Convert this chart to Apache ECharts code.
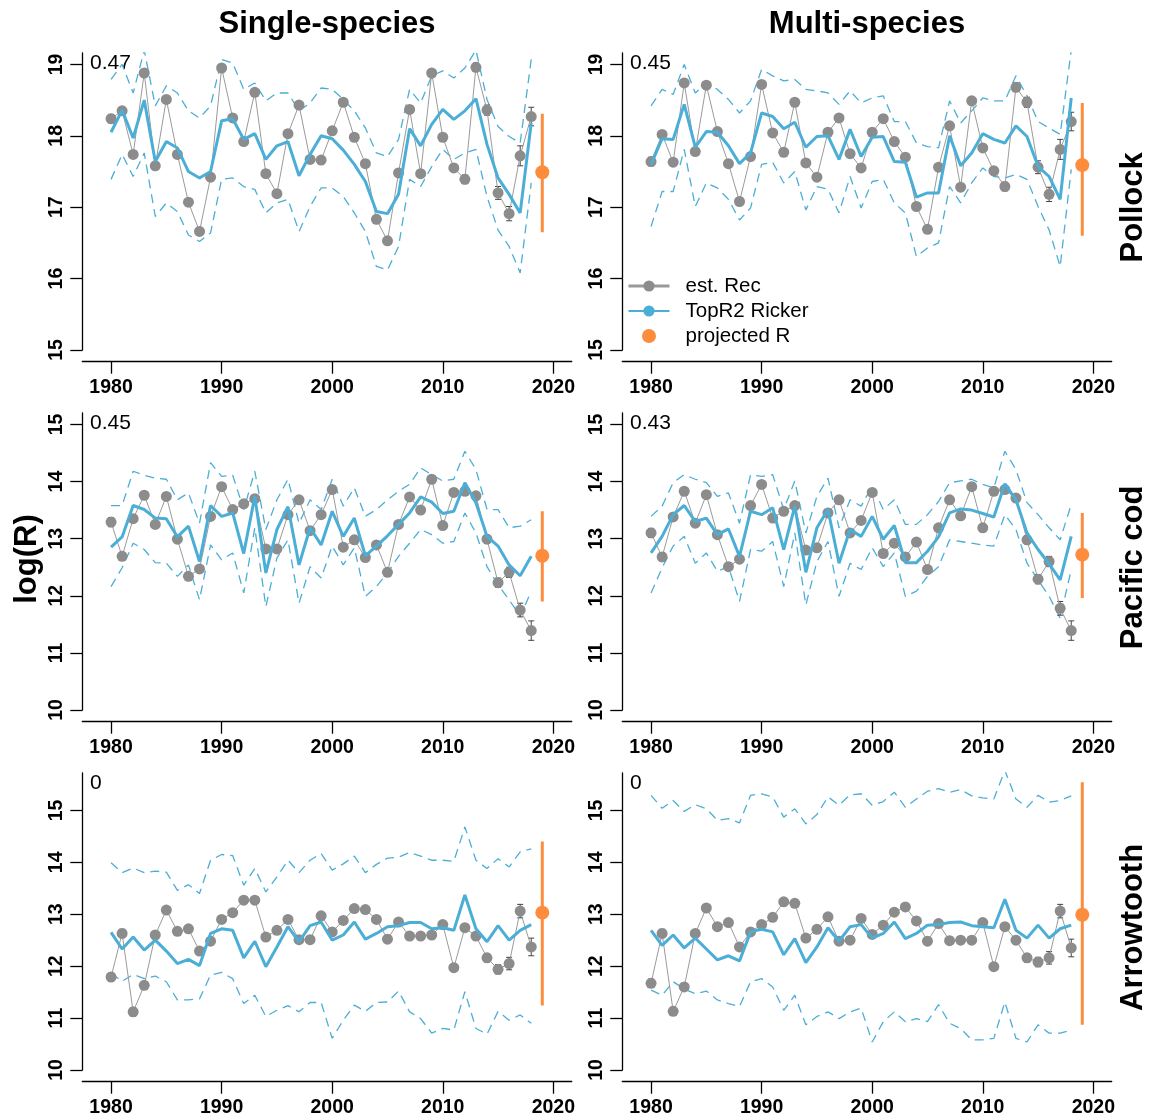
<!DOCTYPE html>
<html><head><meta charset="utf-8">
<script src="https://cdn.jsdelivr.net/npm/echarts@6/dist/echarts.min.js"></script>
<style>html,body{margin:0;padding:0;background:#fff}#c{width:1152px;height:1119px}</style>
</head><body><div id="c"></div><script>
// ---------------- DATA ----------------
const years = [1980,1981,1982,1983,1984,1985,1986,1987,1988,1989,1990,1991,1992,1993,1994,1995,1996,1997,1998,1999,2000,2001,2002,2003,2004,2005,2006,2007,2008,2009,2010,2011,2012,2013,2014,2015,2016,2017,2018];
const projYear = 2019;
const xTicks = [1980,1990,2000,2010,2020];
const yTicksPollock = [15,16,17,18,19];
const yTicksOther = [10,11,12,13,14,15];
const colTitles = ['Single-species','Multi-species'];
const rowTitles = ['Pollock','Pacific cod','Arrowtooth'];
const r2Labels = ['0.47','0.45','0.45','0.43','0','0'];

// Pollock, single-species
const pollockSS_rec = [18.24,18.35,17.74,18.88,17.58,18.51,17.74,17.07,16.66,17.42,18.95,18.25,17.92,18.61,17.47,17.19,18.03,18.43,17.67,17.66,18.07,18.47,17.98,17.61,16.83,16.53,17.48,18.37,17.47,18.88,17.98,17.55,17.39,18.96,18.36,17.20,16.91,17.72,18.27];
const pollockSS_fit = [18.05,18.36,17.97,18.50,17.64,17.92,17.83,17.50,17.41,17.50,18.21,18.24,17.95,18.03,17.67,17.86,17.92,17.44,17.74,18.00,17.96,17.80,17.60,17.36,16.94,16.91,17.18,18.10,17.86,18.16,18.37,18.23,18.35,18.52,17.88,17.41,17.18,16.92,18.18];
const pollockSS_hi = [18.79,19.00,18.60,19.20,18.42,18.70,18.60,18.35,18.25,18.42,19.07,19.02,18.65,18.74,18.49,18.60,18.60,18.35,18.46,18.67,18.65,18.51,18.35,18.11,17.76,17.71,17.95,18.65,18.46,18.84,18.91,18.81,18.95,19.20,18.51,18.13,17.99,17.90,19.07];
const pollockSS_lo = [17.39,17.74,17.43,17.76,16.87,17.06,16.94,16.61,16.52,16.64,17.39,17.41,17.29,17.25,16.92,17.06,17.11,16.66,17.01,17.27,17.27,17.15,16.92,16.66,16.17,16.12,16.45,17.39,17.29,17.57,17.81,17.67,17.76,17.81,17.15,16.68,16.45,16.08,17.34];
const pollockSS_proj = [17.49,16.65,18.31];
// Pollock, multi-species
const pollockMS_rec = [17.64,18.02,17.63,18.74,17.78,18.71,18.06,17.61,17.08,17.71,18.72,18.04,17.77,18.47,17.62,17.42,18.05,18.25,17.75,17.55,18.05,18.24,17.92,17.70,17.01,16.69,17.56,18.14,17.28,18.49,17.83,17.51,17.29,18.68,18.47,17.56,17.18,17.81,18.20];
const pollockMS_fit = [17.60,17.96,17.95,18.44,17.84,18.06,18.05,17.86,17.61,17.76,18.32,18.27,18.10,18.19,17.84,17.99,18.00,17.67,18.09,17.71,17.98,17.99,17.64,17.63,17.14,17.20,17.20,18.00,17.58,17.76,18.03,17.95,17.90,18.14,17.99,17.57,17.43,17.11,18.53];
const pollockMS_hi = [18.42,18.65,18.58,19.00,18.60,18.74,18.65,18.51,18.32,18.49,18.93,18.84,18.77,18.79,18.65,18.63,18.60,18.44,18.63,18.46,18.53,18.56,18.20,18.20,17.90,17.85,17.83,18.49,18.18,18.35,18.53,18.49,18.49,18.84,18.56,18.20,18.11,18.02,19.20];
const pollockMS_lo = [16.73,17.22,17.22,17.81,17.01,17.34,17.27,17.11,16.82,16.99,17.60,17.63,17.34,17.50,16.96,17.29,17.25,16.92,17.43,16.99,17.36,17.39,17.06,16.92,16.31,16.43,16.50,17.29,17.06,17.34,17.55,17.43,17.41,17.46,17.39,17.01,16.68,16.17,17.53];
const pollockMS_proj = [17.59,16.60,18.46];
const pollockSE = [0.06,0.05,0.05,0.05,0.05,0.05,0.05,0.05,0.05,0.05,0.05,0.05,0.05,0.05,0.05,0.05,0.05,0.05,0.05,0.05,0.05,0.05,0.05,0.05,0.05,0.05,0.05,0.05,0.05,0.05,0.05,0.05,0.06,0.06,0.07,0.09,0.10,0.14,0.13];

// Pacific cod, single-species
const codSS_rec = [13.29,12.69,13.35,13.76,13.25,13.74,12.99,12.34,12.47,13.39,13.91,13.51,13.61,13.70,12.82,12.82,13.42,13.68,13.14,13.42,13.86,12.85,12.98,12.67,12.89,12.41,13.25,13.73,13.50,14.04,13.23,13.81,13.83,13.75,12.99,12.23,12.41,11.75,11.39];
const codSS_fit = [12.85,13.03,13.58,13.51,13.36,13.35,13.03,13.22,12.60,13.58,13.39,13.45,12.74,13.74,12.40,13.16,13.56,12.54,13.19,12.89,13.48,13.04,13.36,12.70,12.87,13.05,13.25,13.45,13.73,13.64,13.44,13.48,13.98,13.63,13.04,12.87,12.54,12.35,12.69];
const codSS_hi = [13.58,13.58,14.18,14.11,14.06,14.04,13.68,13.80,13.27,14.33,14.09,14.11,13.51,14.18,13.16,13.68,14.04,13.27,13.68,13.51,14.04,13.57,13.89,13.39,13.51,13.68,13.83,13.95,14.24,14.12,14.01,14.04,14.53,14.21,13.51,13.51,13.19,13.22,13.33];
const codSS_lo = [12.16,12.49,12.92,12.81,12.58,12.57,12.34,12.54,11.93,12.89,12.63,12.75,12.05,13.19,11.81,12.66,12.98,11.87,12.51,12.31,12.87,12.54,12.84,11.99,12.16,12.40,12.69,12.92,13.16,13.07,12.92,12.95,13.45,13.10,12.51,12.19,11.93,11.64,12.08];
const codSS_proj = [12.70,11.90,13.48];
// Pacific cod, multi-species
const codMS_rec = [13.10,12.68,13.38,13.83,13.27,13.77,13.07,12.51,12.64,13.58,13.95,13.36,13.48,13.58,12.80,12.84,13.45,13.68,13.10,13.32,13.81,12.74,12.92,12.68,12.94,12.46,13.19,13.68,13.40,13.91,13.19,13.83,13.86,13.71,12.98,12.29,12.60,11.78,11.39];
const codMS_fit = [12.75,13.04,13.42,13.58,13.30,13.36,13.07,13.17,12.69,13.48,13.42,13.54,12.81,13.57,12.41,13.19,13.51,12.57,13.16,13.04,13.39,12.99,13.23,12.58,12.58,12.78,13.03,13.45,13.52,13.50,13.44,13.38,13.96,13.68,13.10,12.81,12.56,12.28,13.04];
const codMS_hi = [13.39,13.57,13.98,14.12,14.04,13.98,13.74,13.80,13.27,14.12,14.09,14.12,13.51,14.01,13.10,13.74,14.06,13.19,13.68,13.57,13.92,13.51,13.68,13.25,13.25,13.42,13.65,13.98,14.01,14.04,13.95,13.89,14.53,14.21,13.63,13.42,13.19,12.98,13.60];
const codMS_lo = [12.05,12.49,12.87,13.04,12.57,12.75,12.43,12.51,11.90,12.81,12.78,12.95,12.16,13.10,11.84,12.60,12.95,11.99,12.57,12.46,12.84,12.51,12.75,11.99,12.08,12.34,12.51,12.98,12.95,12.92,12.89,12.87,13.42,13.16,12.57,12.28,11.99,11.61,12.46];
const codMS_proj = [12.72,11.96,13.45];
const codSE = [0.08,0.07,0.06,0.06,0.05,0.05,0.05,0.05,0.05,0.05,0.05,0.05,0.05,0.05,0.05,0.05,0.05,0.05,0.05,0.05,0.05,0.05,0.05,0.05,0.05,0.05,0.05,0.05,0.05,0.05,0.05,0.05,0.05,0.06,0.07,0.08,0.09,0.12,0.17];

// Arrowtooth, single-species
const atfSS_rec = [11.79,12.63,11.12,11.63,12.60,13.08,12.67,12.72,12.29,12.48,12.90,13.03,13.27,13.27,12.56,12.69,12.90,12.51,12.51,12.97,12.66,12.88,13.11,13.09,12.90,12.52,12.85,12.58,12.58,12.60,12.80,11.97,12.74,12.58,12.16,11.94,12.05,13.06,12.37];
const atfSS_fit = [12.65,12.33,12.56,12.31,12.50,12.29,12.05,12.13,12.01,12.63,12.72,12.69,12.16,12.48,11.99,12.37,12.76,12.47,12.78,12.85,12.50,12.60,12.85,12.52,12.63,12.76,12.78,12.84,12.84,12.72,12.74,12.69,13.37,12.72,12.47,12.78,12.50,12.69,12.80];
const atfSS_hi = [13.99,13.80,13.89,13.80,13.83,13.81,13.46,13.57,13.40,14.04,14.15,14.13,13.56,13.88,13.43,13.72,14.04,13.80,14.04,14.17,13.85,13.97,14.12,13.80,13.96,14.08,14.10,14.19,14.12,14.04,14.04,14.02,14.68,14.04,13.88,14.07,13.91,14.20,14.26];
const atfSS_lo = [11.86,11.71,11.84,11.76,11.81,11.70,11.35,11.35,11.37,11.83,11.88,11.76,11.28,11.44,11.03,11.15,11.24,11.12,11.30,11.30,10.61,10.96,11.25,11.13,11.30,11.31,11.52,11.12,10.99,10.71,10.80,10.77,11.51,10.80,10.69,11.13,10.96,11.06,10.90];
const atfSS_proj = [13.03,11.24,14.40];
// Arrowtooth, multi-species
const atfMS_rec = [11.67,12.63,11.13,11.60,12.63,13.12,12.76,12.84,12.37,12.66,12.80,12.94,13.24,13.21,12.54,12.71,12.95,12.48,12.50,12.92,12.61,12.79,13.04,13.14,12.87,12.48,12.82,12.49,12.50,12.50,12.84,11.99,12.76,12.50,12.16,12.08,12.16,13.06,12.35];
const atfMS_fit = [12.69,12.40,12.60,12.35,12.54,12.33,12.12,12.20,12.10,12.66,12.71,12.66,12.22,12.53,12.07,12.37,12.74,12.48,12.76,12.80,12.54,12.63,12.85,12.53,12.63,12.79,12.80,12.84,12.85,12.78,12.76,12.74,13.29,12.69,12.54,12.79,12.54,12.72,12.79];
const atfMS_hi = [15.29,15.04,15.19,14.98,15.11,15.03,14.81,14.84,14.76,15.29,15.32,15.26,14.87,15.03,14.74,14.92,15.26,15.10,15.30,15.32,15.10,15.17,15.35,15.06,15.22,15.37,15.42,15.35,15.40,15.28,15.24,15.22,15.77,15.22,15.06,15.29,15.16,15.19,15.28];
const atfMS_lo = [11.54,11.44,11.70,11.56,11.47,11.52,11.35,11.28,11.22,11.70,11.76,11.60,11.15,11.44,10.87,11.03,11.12,10.99,11.12,11.19,10.54,10.93,11.12,10.93,10.99,10.93,11.26,10.90,10.80,10.58,10.58,10.61,11.31,10.61,10.54,10.87,10.71,10.71,10.77];
const atfMS_proj = [12.99,10.87,15.54];
const atfSE = [0.08,0.08,0.08,0.07,0.07,0.06,0.06,0.06,0.06,0.06,0.06,0.06,0.06,0.06,0.06,0.06,0.06,0.06,0.06,0.06,0.06,0.06,0.06,0.06,0.06,0.06,0.06,0.06,0.06,0.06,0.06,0.06,0.07,0.07,0.08,0.09,0.12,0.13,0.17];

// ---------------- LAYOUT / STYLE ----------------
const FONT = '"Liberation Sans", Arial, Helvetica, sans-serif';
const BLUE = '#4BAED6', GRAY = '#8C8C8C', GRAYLINE = '#9A9A9A', ORANGE = '#FD8D3C';
const colLeft = [82.3, 622.3], gridW = 489.4, rowTop = [53, 413, 773], gridH = 297;
const rowY = [[15, 19.16], [10, 15.2], [10, 15.72]];
const rowTicks = [yTicksPollock, yTicksOther, yTicksOther];

const panels = [
  {row:0,col:0,rec:pollockSS_rec,fit:pollockSS_fit,hi:pollockSS_hi,lo:pollockSS_lo,se:pollockSE,proj:pollockSS_proj},
  {row:0,col:1,rec:pollockMS_rec,fit:pollockMS_fit,hi:pollockMS_hi,lo:pollockMS_lo,se:pollockSE,proj:pollockMS_proj},
  {row:1,col:0,rec:codSS_rec,fit:codSS_fit,hi:codSS_hi,lo:codSS_lo,se:codSE,proj:codSS_proj},
  {row:1,col:1,rec:codMS_rec,fit:codMS_fit,hi:codMS_hi,lo:codMS_lo,se:codSE,proj:codMS_proj},
  {row:2,col:0,rec:atfSS_rec,fit:atfSS_fit,hi:atfSS_hi,lo:atfSS_lo,se:atfSE,proj:atfSS_proj},
  {row:2,col:1,rec:atfMS_rec,fit:atfMS_fit,hi:atfMS_hi,lo:atfMS_lo,se:atfSE,proj:atfMS_proj}
];

const axisCommon = {
  axisLine:{show:true,onZero:false,lineStyle:{color:'#000',width:1.3}},
  splitLine:{show:false}
};
const tickLabelStyle = {fontSize:19.5,fontWeight:'bold',color:'#000',fontFamily:FONT,formatter:v=>String(v)};

const grids = [], xAxes = [], yAxes = [], series = [], graphics = [];
panels.forEach((p, i) => {
  grids.push({left: colLeft[p.col], top: rowTop[p.row], width: gridW, height: gridH});
  xAxes.push(Object.assign({gridIndex:i,type:'value',min:1977.4,max:2021.66,offset:11.7,
    axisTick:{show:true,length:12,customValues:xTicks,lineStyle:{color:'#000',width:1.3}},
    axisLabel:Object.assign({customValues:xTicks,margin:16}, tickLabelStyle)}, axisCommon));
  yAxes.push(Object.assign({gridIndex:i,type:'value',min:rowY[p.row][0],max:rowY[p.row][1],
    axisTick:{show:true,length:12,customValues:rowTicks[p.row],lineStyle:{color:'#000',width:1.3}},
    axisLabel:Object.assign({customValues:rowTicks[p.row],rotate:90,margin:16}, tickLabelStyle)}, axisCommon));
  const base = {xAxisIndex:i,yAxisIndex:i,animation:false,silent:true};
  const pair = arr => years.map((y,k)=>[y, arr[k]]);
  series.push(Object.assign({type:'line',name:'upper',data:pair(p.hi),symbol:'none',
    lineStyle:{color:BLUE,width:1.3,type:[9,6]},z:1}, base));
  series.push(Object.assign({type:'line',name:'lower',data:pair(p.lo),symbol:'none',
    lineStyle:{color:BLUE,width:1.3,type:[9,6]},z:1}, base));
  series.push(Object.assign({type:'custom',name:'recErr',z:2,
    data: years.map((y,k)=>[y, p.rec[k]-p.se[k], p.rec[k]+p.se[k]]),
    renderItem:(params, api)=>{
      const x = api.value(0);
      const a = api.coord([x, api.value(1)]), b = api.coord([x, api.value(2)]);
      const st = {stroke:'#444',lineWidth:1};
      return {type:'group',children:[
        {type:'line',shape:{x1:a[0],y1:a[1],x2:b[0],y2:b[1]},style:st},
        {type:'line',shape:{x1:a[0]-3,y1:a[1],x2:a[0]+3,y2:a[1]},style:st},
        {type:'line',shape:{x1:b[0]-3,y1:b[1],x2:b[0]+3,y2:b[1]},style:st}]};
    }}, base));
  series.push(Object.assign({type:'line',name:'est. Rec',data:pair(p.rec),symbol:'circle',symbolSize:11,
    showSymbol:true,lineStyle:{color:GRAYLINE,width:1},itemStyle:{color:GRAY},z:3}, base));
  series.push(Object.assign({type:'line',name:'TopR2 Ricker',data:pair(p.fit),symbol:'circle',symbolSize:8,
    showSymbol:false,lineStyle:{color:BLUE,width:3},itemStyle:{color:BLUE},z:4}, base));
  series.push(Object.assign({type:'line',name:'projBar',data:[[projYear,p.proj[1]],[projYear,p.proj[2]]],
    symbol:'none',lineStyle:{color:ORANGE,width:3},z:5}, base));
  series.push(Object.assign({type:'scatter',name:'projected R',data:[[projYear,p.proj[0]]],
    symbol:'circle',symbolSize:14,itemStyle:{color:ORANGE,opacity:1},z:6}, base));
  graphics.push({type:'text',x:colLeft[p.col]+7.7,y:rowTop[p.row]+10,
    style:{text:r2Labels[i],fill:'#000',font:'21px '+FONT,textAlign:'left',textVerticalAlign:'middle'}});
});

colTitles.forEach((t,c)=>graphics.push({type:'text',x:colLeft[c]+gridW/2,y:24,
  style:{text:t,fill:'#000',font:'bold 31px '+FONT,textAlign:'center',textVerticalAlign:'middle'}}));
rowTitles.forEach((t,r)=>graphics.push({type:'text',x:1133,y:rowTop[r]+154.4,rotation:Math.PI/2,
  style:{text:t,fill:'#000',font:'bold 31px '+FONT,textAlign:'center',textVerticalAlign:'middle'}}));
graphics.push({type:'text',x:27,y:559,rotation:Math.PI/2,
  style:{text:'log(R)',fill:'#000',font:'bold 31px '+FONT,textAlign:'center',textVerticalAlign:'middle'}});

const chart = echarts.init(document.getElementById('c'), null, {renderer:'canvas'});
chart.setOption({
  backgroundColor:'#fff',
  animation:false,
  grid:grids, xAxis:xAxes, yAxis:yAxes, series:series,
  legend:{orient:'vertical',left:627,top:275.5,padding:0,itemWidth:41,itemHeight:14,itemGap:4,
    selectedMode:false,
    textStyle:{fontSize:20.5,color:'#000',fontFamily:FONT,padding:[0,0,0,11]},
    data:[{name:'est. Rec',lineStyle:{width:3,color:GRAYLINE}},
          {name:'TopR2 Ricker'},
          {name:'projected R'}]},
  graphic:graphics
});
</script></body></html>
